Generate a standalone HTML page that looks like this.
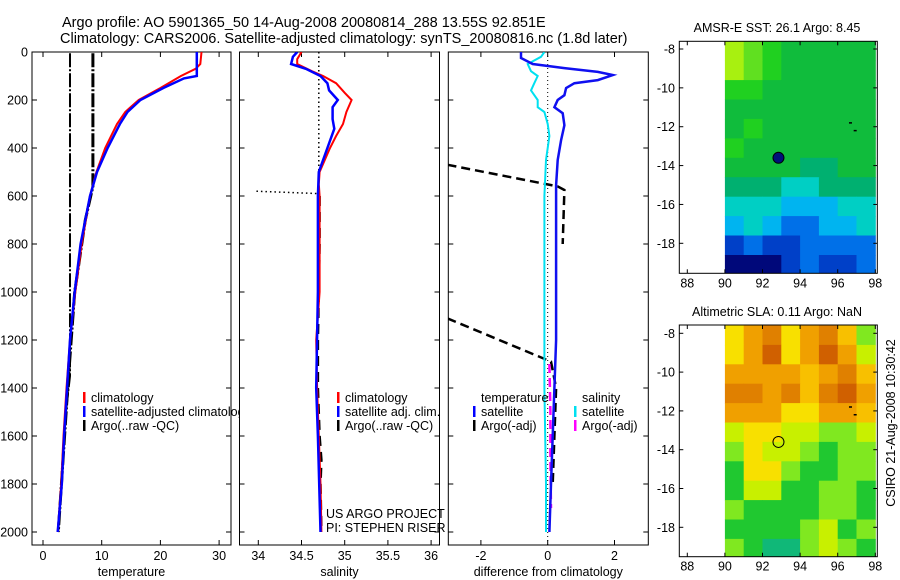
<!DOCTYPE html>
<html><head><meta charset="utf-8">
<style>
html,body{margin:0;padding:0;background:#fff;}
svg{display:block;font-family:"Liberation Sans",sans-serif;}
text{fill:#000;}
</style></head>
<body>
<svg id="fig" width="900" height="580" viewBox="0 0 900 580" xmlns="http://www.w3.org/2000/svg">
<defs>
<clipPath id="c1"><rect x="32" y="52" width="199" height="493"/></clipPath>
<clipPath id="c2"><rect x="239.5" y="52" width="200" height="493"/></clipPath>
<clipPath id="c3"><rect x="448.3" y="52" width="200" height="493"/></clipPath>
<clipPath id="cm1"><rect x="679.3" y="41.3" width="198" height="232"/></clipPath>
<clipPath id="cm2"><rect x="679.3" y="325" width="198" height="231.7"/></clipPath>
<clipPath id="cl1"><rect x="32" y="380" width="208" height="60"/></clipPath>
</defs>
<text x="62" y="27" font-size="14.5">Argo profile: AO 5901365_50 14-Aug-2008 20080814_288 13.55S 92.851E</text>
<text x="60" y="43" font-size="14.5">Climatology: CARS2006. Satellite-adjusted climatology: synTS_20080816.nc (1.8d later)</text>
<g id="p1"></g>
<g id="p2"></g>
<g id="p3"></g>
<g id="m1"></g>
<g id="m2"></g>
<text transform="translate(895,423) rotate(-90)" text-anchor="middle" font-size="12.5">CSIRO 21-Aug-2008 10:30:42</text>
</svg>
<script>
// ---------- data ----------
const depthTicks = [0,200,400,600,800,1000,1200,1400,1600,1800,2000];
const tempTicks = [0,10,20,30];
const salTicks = [34,34.5,35,35.5,36];
const salTickLabels = ["34","34.5","35","35.5","36"];
const diffTicks = [-2,0,2];
const lonTicks = [88,90,92,94,96,98];
const latTicks = [-8,-10,-12,-14,-16,-18];

const climTDepth = [0,50,70,100,150,200,250,300,400,500,600,800,1000,1200,1400,1600,1800,2000];
const climTVal   = [27.0,26.8,26.0,23.5,20.0,16.3,14.0,12.6,10.6,9.1,8.0,6.6,5.5,4.6,4.0,3.5,3.1,2.5];
const satTDepth  = [0,100,110,150,200,250,300,400,500,600,800,1000,1200,1400,1600,1800,2000];
const satTVal    = [26.2,26.2,24.0,20.5,16.6,14.4,13.1,11.0,9.2,8.0,6.4,5.4,4.6,4.1,3.6,3.2,2.5];
const argoTRawDepth = [5,560,700,1000,1400,1700,2000];
const argoTRawVal   = [8.5,8.5,7.2,5.4,4.2,3.4,2.6];
const argoTQCDepth  = [5,1350,1500,2000];
const argoTQCVal    = [4.6,4.6,3.9,2.6];

const climSDepth = [0,30,50,80,100,130,170,200,250,300,350,400,450,500,550,600,800,1000,1200,1400,1600,1800,2000];
const climSVal   = [34.5,34.45,34.45,34.62,34.75,34.9,35.0,35.08,35.02,34.98,34.9,34.83,34.77,34.71,34.7,34.71,34.71,34.71,34.67,34.68,34.7,34.72,34.73];
const satSDepth  = [0,20,50,70,100,130,160,200,230,280,320,400,500,600,1000,1400,1600,2000];
const satSVal    = [34.45,34.40,34.38,34.55,34.72,34.8,34.82,34.92,34.86,34.86,34.88,34.8,34.7,34.69,34.69,34.67,34.69,34.72];
const argoSDotDepth = [0,590,580];
const argoSDotVal   = [34.7,34.7,33.97];
const argoSDepth = [600,800,1000,1200,1400,1600,1700,1800,2000];
const argoSVal   = [34.71,34.71,34.70,34.69,34.69,34.71,34.73,34.72,34.73];

const dTSatDepth = [0,25,50,67,83,96,117,130,150,180,200,230,255,305,367,450,555,800,1200,1400,1600,1800,2000];
const dTSatVal   = [-0.8,-0.8,-0.45,0.5,1.5,1.95,1.5,0.8,0.55,0.5,0.3,0.2,0.45,0.5,0.4,0.3,0.25,0.25,0.25,0.2,0.15,0.1,0.05];
const dSSatDepth = [0,20,50,80,100,130,160,200,230,250,300,350,450,600,1000,1400,1800,2000];
const dSSatVal   = [-0.1,-0.2,-0.6,-0.5,-0.3,-0.4,-0.5,-0.3,-0.3,-0.1,0.0,0.05,-0.05,-0.1,-0.1,-0.1,-0.05,-0.05];
const dTArgoDepth = [470,560,575,800,NaN,1110,1290,1400,1600,1800];
const dTArgoVal   = [-3,0.3,0.5,0.45,NaN,-3,0.1,0.25,0.2,0.15];
const dSArgoDepth = [1300,1500,1700,1900];
const dSArgoVal   = [0.05,0.08,0.08,0.1];

const sstRowLat = [-8,-9,-10,-11,-12,-13,-14,-15,-16,-17,-18,-19];
const sstColLon = [90,91,92,93,94,95,96,97];
const sstGrid = [
 [9,8,7,6,6,6,6,6],[9,8,7,6,6,6,6,6],[7,7,6,6,6,6,6,6],[6,6,6,6,6,6,6,6],
 [6,7,6,6,6,6,6,6],[7,6,6,6,6,6,6,6],[6,6,6,6,5,5,6,6],[5,5,5,4,4,5,5,5],
 [4,4,4,3,3,3,4,4],[3,4,3,2,2,3,3,4],[1,2,1,1,2,2,2,2],[0,0,0,1,2,1,1,2]];
const sstColors = ["#00087a","#0040c8","#0070e8","#00b4f0","#00cfc4","#00b070","#10bc3c","#20d020","#60e020","#a8f010"];
const slaGrid = [
 [4,6,7,4,6,7,5,2],[4,6,8,4,6,8,6,3],[6,6,6,6,5,6,7,5],[7,7,6,7,5,7,8,6],
 [6,6,6,4,4,6,6,5],[3,4,4,3,3,2,2,3],[2,4,3,3,2,1,2,2],[1,4,4,2,1,1,2,2],
 [1,3,3,1,1,2,2,1],[2,1,1,1,1,2,2,1],[1,1,1,1,2,3,1,2],[2,1,0,0,2,3,2,1]];
const slaColors = ["#10b878","#20c830","#80e820","#c8f000","#f8e000","#f8c000","#f0a000","#e08000","#d06000"];
const argoLon = 92.85, argoLat = -13.6;

// ---------- helpers ----------
const NS="http://www.w3.org/2000/svg";
function mk(tag, attrs, parent){const e=document.createElementNS(NS,tag);for(const k in attrs)e.setAttribute(k,attrs[k]);parent.appendChild(e);return e;}
const yD = d => 52 + d*0.24;
function pathFrom(depths, vals, xf){
  let s="", pen=false;
  for(let i=0;i<depths.length;i++){
    if(isNaN(depths[i])||isNaN(vals[i])){pen=false;continue;}
    s += (pen?"L":"M") + xf(vals[i]).toFixed(1) + "," + yD(depths[i]).toFixed(1);
    pen=true;
  }
  return s;
}
function panel(g, x0, x1, xticks, xlabels, xf, title, leftLabels){
  const r=mk("rect",{x:x0,y:52,width:x1-x0,height:493,fill:"none",stroke:"#000","stroke-width":1},g);
  
  
  depthTicks.forEach(d=>{
    const y=yD(d);
    mk("line",{x1:x0,x2:x0+5,y1:y,y2:y,stroke:"#000"},g);
    mk("line",{x1:x1-5,x2:x1,y1:y,y2:y,stroke:"#000"},g);
    if(leftLabels){
      const t=mk("text",{x:x0-4,y:y+4.5,"font-size":12.5,"text-anchor":"end"},g);
      t.textContent=d;
      
      
    }
  });
  xticks.forEach((v,i)=>{
    const x=xf(v);
    mk("line",{x1:x,x2:x,y1:545,y2:540,stroke:"#000"},g);
    mk("line",{x1:x,x2:x,y1:52,y2:57,stroke:"#000"},g);
    const t=mk("text",{x:x,y:560,"font-size":12.5,"text-anchor":"middle"},g);
    t.textContent=xlabels[i];
    
    
  });
  const tt=mk("text",{x:(x0+x1)/2,y:576,"font-size":12.5,"text-anchor":"middle"},g);
  tt.textContent=title;
  
  
}
function line(g, clip, d, stroke, w, dash, name){
  const p=mk("path",{d:d,fill:"none",stroke:stroke,"stroke-width":w,"clip-path":"url(#"+clip+")"},g);
  if(dash) p.setAttribute("stroke-dasharray",dash);
  
  
  return p;
}
function legend(g, x, y, color, label, name, clip){
  mk("rect",{x:x,y:y-10,width:2.5,height:11,fill:color},g);
  const t=mk("text",{x:x+8,y:y,"font-size":12.5},g);
  if(clip) t.setAttribute("clip-path","url(#"+clip+")");
  t.textContent=label;
  
  
  return t;
}

// ---------- panel 1: temperature ----------
const p1=document.getElementById("p1");
const xT = v => 43 + v*5.87;
panel(p1,32,231,tempTicks,tempTicks.map(String),xT,"temperature",true);
line(p1,"c1",pathFrom(argoTQCDepth,argoTQCVal,xT),"#000",2,"14,2,2,2","argo-temp-qc-line");
line(p1,"c1",pathFrom(argoTRawDepth,argoTRawVal,xT),"#000",3,"14,2,2,2","argo-temp-raw-line");
line(p1,"c1",pathFrom(climTDepth,climTVal,xT),"#f00",2,null,"climatology-temp-line");
line(p1,"c1",pathFrom(satTDepth,satTVal,xT),"#00f",2.5,null,"satellite-temp-line");
legend(p1,83,402,"#f00","climatology","legend-climatology","cl1");
legend(p1,83,416,"#00f","satellite-adjusted climatology","legend-satellite-adjusted","cl1");
legend(p1,83,430,"#000","Argo(..raw -QC)","legend-argo","cl1");

// ---------- panel 2: salinity ----------
const p2=document.getElementById("p2");
const xS = v => 258.3 + (v-34)*86.4;
panel(p2,239.5,439.5,salTicks,salTickLabels,xS,"salinity",false);
line(p2,"c2",pathFrom(argoSDotDepth,argoSDotVal,xS),"#000",1.5,"1.5,3","argo-salinity-dotted");
line(p2,"c2",pathFrom(argoSDepth,argoSVal,xS),"#000",2.5,"10,6","argo-salinity-line");
line(p2,"c2",pathFrom(climSDepth,climSVal,xS),"#f00",2,null,"climatology-salinity-line");
line(p2,"c2",pathFrom(satSDepth,satSVal,xS),"#00f",2.5,null,"satellite-salinity-line");
legend(p2,337,402,"#f00","climatology","legend-climatology-s");
legend(p2,337,416,"#00f","satellite adj. clim.","legend-satellite-s");
legend(p2,337,430,"#000","Argo(..raw -QC)","legend-argo-s");
[["US ARGO PROJECT",518,"project-label"],["PI: STEPHEN RISER",532,"pi-label"]].forEach(a=>{
  const t=mk("text",{x:326,y:a[1],"font-size":12.5},p2);
  t.textContent=a[0];
  
  
});

// ---------- panel 3: difference ----------
const p3=document.getElementById("p3");
const xDf = v => 547.7 + v*33.4;
panel(p3,448.3,648.3,diffTicks,diffTicks.map(String),xDf,"difference from climatology",false);
line(p3,"c3","M"+xDf(0)+",52L"+xDf(0)+",545","#000",1,"1,3","zero-line");
line(p3,"c3",pathFrom(dTArgoDepth,dTArgoVal,xDf),"#000",2.5,"9,5","argo-temp-diff-line");
line(p3,"c3",pathFrom(dSArgoDepth,dSArgoVal,xDf),"#f0f",2.5,"9,5","argo-salinity-diff-line");
line(p3,"c3",pathFrom(dSSatDepth,dSSatVal,xDf),"#00e0f0",2,null,"satellite-salinity-diff-line");
line(p3,"c3",pathFrom(dTSatDepth,dTSatVal,xDf),"#1010f0",2.5,null,"satellite-temp-diff-line");
[["temperature",481,402,"legend-temperature-heading"],["salinity",582,402,"legend-salinity-heading"]].forEach(a=>{
  const t=mk("text",{x:a[1],y:a[2],"font-size":12.5},p3);
  t.textContent=a[0];
  
  
});
legend(p3,473,416,"#00f","satellite","legend-temp-satellite");
legend(p3,473,430,"#000","Argo(-adj)","legend-temp-argo");
legend(p3,574,416,"#00e0f0","satellite","legend-sal-satellite");
legend(p3,574,430,"#f0f","Argo(-adj)","legend-sal-argo");

// ---------- maps ----------
function map(gid, clip, top, bottom, y8, y18, grid, colors, title, titleY, circleFill, nameCell){
  const g=document.getElementById(gid);
  const lonX = v => 687.3 + (v-88)*18.8;
  const latY = v => y8 + (-8 - v)*(y18-y8)/10;
  const cg=mk("g",{"clip-path":"url(#"+clip+")"},g);
  grid.forEach((row,ri)=>{
    row.forEach((v,ci)=>{
      const lon=sstColLon[ci], lat=sstRowLat[ri];
      const x0=lonX(lon), x1=lonX(lon+1);
      const yA=latY(lat+0.4), yB=latY(lat-0.6);
      const r=mk("rect",{x:x0.toFixed(1),y:yA.toFixed(1),width:(x1-x0+0.5).toFixed(1),height:(yB-yA+0.5).toFixed(1),fill:colors[v]},cg);
      
      
    });
  });
  const fr=mk("rect",{x:679.3,y:top,width:198,height:bottom-top,fill:"none",stroke:"#000"},g);
  
  
  lonTicks.forEach(v=>{
    const x=lonX(v);
    mk("line",{x1:x,x2:x,y1:bottom,y2:bottom-4,stroke:"#000"},g);
    mk("line",{x1:x,x2:x,y1:top,y2:top+4,stroke:"#000"},g);
    const t=mk("text",{x:x,y:bottom+14,"font-size":12.5,"text-anchor":"middle"},g);
    t.textContent=v;
    
    
  });
  latTicks.forEach(v=>{
    const y=latY(v);
    mk("line",{x1:679.3,x2:683.3,y1:y,y2:y,stroke:"#000"},g);
    mk("line",{x1:877.3,x2:873.3,y1:y,y2:y,stroke:"#000"},g);
    const t=mk("text",{x:675,y:y+4.5,"font-size":12.5,"text-anchor":"end"},g);
    t.textContent=v;
    
    
  });
  const tt=mk("text",{x:777,y:titleY,"font-size":12.5,"text-anchor":"middle"},g);
  tt.textContent=title;
  
  
  const c=mk("circle",{cx:lonX(argoLon),cy:latY(argoLat),r:5.5,fill:circleFill,stroke:"#000","stroke-width":1},g);
  
  
  mk("path",{d:"M"+lonX(96.6)+","+latY(-11.8)+"h3M"+lonX(96.85)+","+latY(-12.2)+"h3",stroke:"#000","stroke-width":1.5},g);
}
map("m1","cm1",41.3,273.3,49,243.3,sstGrid,sstColors,"AMSR-E SST: 26.1 Argo: 8.45",32,"#00107a","sst-cell");
map("m2","cm2",325,556.7,333.3,527.3,slaGrid,slaColors,"Altimetric SLA: 0.11 Argo: NaN",316,"none","sla-cell");
</script>
</body></html>
